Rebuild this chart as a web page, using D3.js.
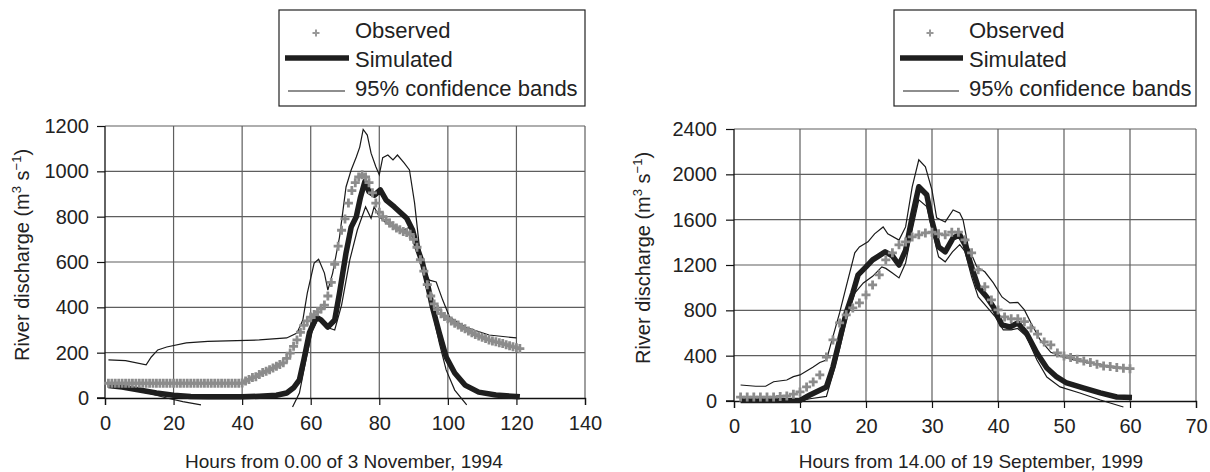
<!DOCTYPE html>
<html>
<head>
<meta charset="utf-8">
<script src="https://cdn.jsdelivr.net/npm/d3@7"></script>
<style>
  body { margin: 0; background: #fff; }
  text { font-family: "Liberation Sans", Arial, sans-serif; fill: #222; }
</style>
</head>
<body>
<svg id="chart" width="1210" height="472"></svg>
<script>
// ---------- data: 3 November 1994 event ----------
// observed, one value per hour starting at hour 1
const nov_observed = [
  65, 65, 65, 65, 65, 65, 65, 65, 65, 65, 65, 65, 65, 65, 65, 65, 65, 65, 65, 65,
  65, 65, 65, 65, 65, 65, 65, 65, 65, 65, 65, 65, 65, 65, 65, 65, 65, 65, 65, 66,
  75, 82, 90, 94, 104, 112, 118, 125, 132, 140, 148, 155, 175, 198, 228, 256, 290, 320, 340, 357,
  368, 380, 393, 410, 450, 510, 590, 670, 740, 790, 860, 915, 950, 975, 985, 975, 950, 905, 860, 820,
  800, 785, 772, 760, 750, 742, 735, 730, 722, 700, 665, 610, 560, 500, 450, 415, 390, 372, 360, 350,
  340, 330, 322, 312, 305, 296, 288, 280, 274, 268, 262, 256, 252, 248, 244, 240, 235, 230, 226, 222,
  218
]
const nov_sim_hours = [1, 5, 10, 15, 20, 25, 30, 40, 45, 50, 53, 55, 56.7, 58, 59.6, 61.6, 63, 65, 67, 68.4,
  70.3, 71.8, 73.3, 74.5, 75.8, 77, 78.6, 80.3, 82, 84.4, 86.4, 88, 89.7, 91, 92.6, 94, 95.5, 97.5, 99.5, 102,
  105, 109, 114, 121]
const nov_sim = [55, 48, 35, 22, 12, 7, 5, 5, 8, 12, 22, 45, 80, 168, 287, 357, 345, 313, 344, 463,
  640, 754, 800, 885, 955, 910, 895, 918, 873, 843, 815, 793, 741, 666, 595, 507, 401, 287, 181, 110,
  57, 26, 13, 5]
const nov_upper_hours = [1, 6, 12, 13.5, 15.4, 18, 23.7, 30, 45, 53, 56, 57.7, 59, 61, 62.3, 64, 65, 66.4, 68.4, 70.3,
  71.8, 73.3, 74.3, 75.3, 76.5, 77.6, 79, 80, 81, 82.5, 84, 85.3, 87.3, 88.8, 90.3, 91.7, 93, 94.6, 96.6, 98.5,
  100.5, 105, 112, 120]
const nov_upper = [168, 165, 146, 181, 212, 225, 243, 250, 256, 265, 287, 344, 463, 595, 612, 551, 476, 551, 710, 931,
  1006, 1063, 1107, 1185, 1160, 1080, 1020, 985, 1060, 1072, 1050, 1072, 1036, 1006, 860, 666, 565, 520, 512, 432,
  357, 313, 278, 265]
// the lower band leaves the plot twice: null marks the gap
const nov_lower_hours = [1, 8, 13, 18, 22.7, 28, 40, 54.7, 56.7, 58.6, 60.5, 62.5, 64.5, 67, 69, 71.4, 73.6, 76, 77.6, 78.5,
  80, 82, 84.4, 87, 89, 90.6, 92.3, 93.7, 95.6, 97.5, 99.5, 102, 105.5]
const nov_lower = [55, 35, 20, 0, -16, -30, null, -40, 22, 168, 298, 357, 313, 300, 410, 609, 741, 843, 793, 843,
  800, 772, 754, 741, 754, 697, 609, 490, 375, 243, 124, 35, -30]

// ---------- data: 19 September 1999 event ----------
const sep_observed = [
  35, 35, 35, 35, 35, 35, 40, 45, 60, 80, 124, 168, 230, 388, 539, 689, 760, 821, 865, 936,
  1024, 1113, 1245, 1307, 1378, 1404, 1448, 1466, 1483, 1490, 1475, 1466, 1490, 1490, 1422, 1307, 1157, 1007, 892, 804,
  742, 725, 725, 700, 645, 590, 521, 495, 424, 397, 383, 368, 353, 339, 324, 309, 304, 295, 290, 285
]
const sep_sim_hours = [1, 10, 11.5, 14, 15, 16, 17, 18, 18.8, 20, 21, 22.9, 24, 25, 26, 27, 28, 29.2, 30, 31,
  32, 33.2, 34.2, 35, 36, 37, 38.3, 39.3, 40.6, 41.8, 43, 44.3, 45.9, 47.4, 48.9, 50.4, 52.9, 55.5, 58, 60.3]
const sep_sim = [5, 5, 53, 124, 300, 539, 777, 953, 1113, 1183, 1245, 1316, 1280, 1200, 1330, 1625, 1890, 1820, 1590, 1360,
  1316, 1439, 1466, 1378, 1183, 1007, 918, 830, 671, 653, 689, 600, 424, 291, 212, 159, 115, 71, 35, 30]
const sep_upper_hours = [1, 3.3, 4.8, 6, 8, 9, 10, 11, 12, 13, 14, 15, 16, 17, 18.3, 19, 20.3, 21.3, 22.6, 23.3,
  25, 26, 27, 28, 29, 30, 30.7, 32, 33.2, 34.2, 34.7, 35.5, 36.8, 38, 39.3, 40.6, 41.8, 43, 44, 45,
  46.4, 48, 50, 52, 54, 56, 58, 60]
const sep_upper = [141, 130, 130, 170, 185, 215, 230, 265, 300, 340, 362, 570, 777, 1010, 1307, 1360, 1404, 1475, 1536, 1475,
  1420, 1536, 1890, 2128, 2066, 1860, 1616, 1580, 1686, 1660, 1600, 1360, 1183, 1140, 1042, 918, 865, 870, 804, 689,
  539, 430, 385, 355, 335, 315, 300, 290]
const sep_lower_hours = [1, 10, 11.5, 14, 15, 16, 17, 18.3, 19.6, 21, 22.4, 23, 24, 25, 26, 27, 28, 29.2, 30, 31,
  32, 33.1, 34.2, 35, 36, 37, 38.3, 39.6, 40.8, 42, 43, 44.3, 45.9, 47.4, 49.4, 52.4, 55.5, 59]
const sep_lower = [0, 0, 20, 40, 240, 460, 710, 953, 1042, 1100, 1183, 1170, 1130, 1086, 1218, 1510, 1775, 1715, 1510, 1272,
  1228, 1316, 1380, 1320, 1095, 918, 830, 742, 627, 627, 640, 570, 362, 212, 124, 71, 9, -53]

const legend_labels = ["Observed", "Simulated", "95% confidence bands"]

const svg = d3.select("#chart")

function pairs(hours, vals) { return hours.map((h, i) => [h, vals[i]]) }

function drawPanel(p) {
  const x = d3.scaleLinear().domain(p.xDomain).range(p.xRange)
  const y = d3.scaleLinear().domain(p.yDomain).range(p.yRange)
  const g = svg.append("g")
  const [x0, x1] = p.xRange
  const [y0, y1] = p.yRange

  // gridlines
  g.append("g").selectAll("line").data(p.yTicks.filter(d => d > 0))
    .join("line")
    .attr("x1", x0).attr("x2", x1)
    .attr("y1", d => y(d)).attr("y2", d => y(d))
    .attr("stroke", "#5e5e5e").attr("stroke-width", 1.2)
  g.append("g").selectAll("line").data(p.xTicks.filter(d => d > 0))
    .join("line")
    .attr("y1", y0).attr("y2", y1)
    .attr("x1", d => x(d)).attr("x2", d => x(d))
    .attr("stroke", "#5e5e5e").attr("stroke-width", 1.2)

  // axes
  const ya = g.append("g").attr("transform", `translate(${x0},0)`)
    .call(d3.axisLeft(y).tickValues(p.yTicks).tickSize(8).tickPadding(p.yPad).tickFormat(d3.format("d")))
  const xa = g.append("g").attr("transform", `translate(0,${y0})`)
    .call(d3.axisBottom(x).tickValues(p.xTicks).tickSize(7).tickPadding(11).tickFormat(d3.format("d")))
  for (const a of [ya, xa]) {
    a.select(".domain").attr("stroke", "#111").attr("stroke-width", 1.3)
    a.selectAll(".tick line").attr("stroke", "#111").attr("stroke-width", 1.2)
    a.selectAll("text").attr("font-size", 20).attr("fill", "#222")
      .attr("font-family", '"Liberation Sans", Arial, sans-serif')
  }
  ya.select(".domain").attr("d", `M-8,${y0}H0V${y1}`)

  // axis titles
  const yt = g.append("text")
    .attr("transform", `translate(${p.yTitleX},${(y0 + y1) / 2 - 7}) rotate(-90)`)
    .attr("text-anchor", "middle").attr("font-size", 20)
  yt.append("tspan").text("River discharge (m")
  yt.append("tspan").attr("font-size", 13).attr("dy", -8).text("3")
  yt.append("tspan").attr("dy", 8).text(" s")
  yt.append("tspan").attr("font-size", 13).attr("dy", -8).text("\u22121")
  yt.append("tspan").attr("dy", 8).text(")")
  g.append("text")
    .attr("x", p.xTitleX).attr("y", 468)
    .attr("text-anchor", "middle").attr("font-size", 19)
    .text(p.xTitle)

  const line = d3.line().defined(d => d[1] !== null).x(d => x(d[0])).y(d => y(d[1]))

  // confidence bands
  for (const band of [pairs(p.upperHours, p.upper), pairs(p.lowerHours, p.lower)]) {
    g.append("path").datum(band).attr("d", line)
      .attr("fill", "none").attr("stroke", "#1a1a1a").attr("stroke-width", 1.2)
  }
  // simulated
  g.append("path").datum(pairs(p.simHours, p.sim)).attr("d", line)
    .attr("fill", "none").attr("stroke", "#1e1e1e").attr("stroke-width", 5.5)
    .attr("stroke-linejoin", "round")
  // observed
  g.append("g").selectAll("path").data(p.observed)
    .join("path")
    .attr("transform", (d, i) => `translate(${x(i + 1)},${y(d)})`)
    .attr("d", "M-4.5,0H4.5M0,-4.5V4.5")
    .attr("stroke", "#8c8c8c").attr("stroke-width", 2.8)

  // legend
  const lg = svg.append("g").attr("transform", `translate(${p.legendX},10)`)
  lg.append("rect").attr("width", p.legendW).attr("height", 96)
    .attr("fill", "#fff").attr("stroke", "#222").attr("stroke-width", 1.2)
  const rows = [20, 49, 78]
  lg.selectAll("text.lab").data(legend_labels).join("text")
    .attr("class", "lab")
    .attr("x", p.legendTextX).attr("y", (d, i) => rows[i] + 8)
    .attr("font-size", 22).text(d => d)
  lg.append("path").attr("transform", `translate(${p.legendTextX - 39},${rows[0] + 3})`)
    .attr("d", "M-3.5,0H3.5M0,-3.5V3.5").attr("stroke", "#999").attr("stroke-width", 2)
  lg.append("line").attr("x1", 6).attr("x2", p.legendTextX - 6)
    .attr("y1", rows[1] - 1).attr("y2", rows[1] - 1)
    .attr("stroke", "#1e1e1e").attr("stroke-width", 5.5)
  lg.append("line").attr("x1", 9).attr("x2", p.legendTextX - 10)
    .attr("y1", rows[2] + 3).attr("y2", rows[2] + 3)
    .attr("stroke", "#1e1e1e").attr("stroke-width", 1.2)
}

drawPanel({
  xDomain: [0, 140], xRange: [105, 585],
  yDomain: [0, 1200], yRange: [398, 126],
  xTicks: [0, 20, 40, 60, 80, 100, 120, 140],
  yTicks: [0, 200, 400, 600, 800, 1000, 1200],
  yPad: 8,
  observed: nov_observed,
  simHours: nov_sim_hours, sim: nov_sim,
  upperHours: nov_upper_hours, upper: nov_upper,
  lowerHours: nov_lower_hours, lower: nov_lower,
  yTitleX: 29, xTitleX: 344, xTitle: "Hours from 0.00 of 3 November, 1994",
  legendX: 279, legendW: 306, legendTextX: 76
})

drawPanel({
  xDomain: [0, 70], xRange: [734, 1196],
  yDomain: [0, 2400], yRange: [401, 129],
  xTicks: [0, 10, 20, 30, 40, 50, 60, 70],
  yTicks: [0, 400, 800, 1200, 1600, 2000, 2400],
  yPad: 9,
  observed: sep_observed,
  simHours: sep_sim_hours, sim: sep_sim,
  upperHours: sep_upper_hours, upper: sep_upper,
  lowerHours: sep_lower_hours, lower: sep_lower,
  yTitleX: 650, xTitleX: 971, xTitle: "Hours from 14.00 of 19 September, 1999",
  legendX: 894, legendW: 302, legendTextX: 75
})
</script>
</body>
</html>
